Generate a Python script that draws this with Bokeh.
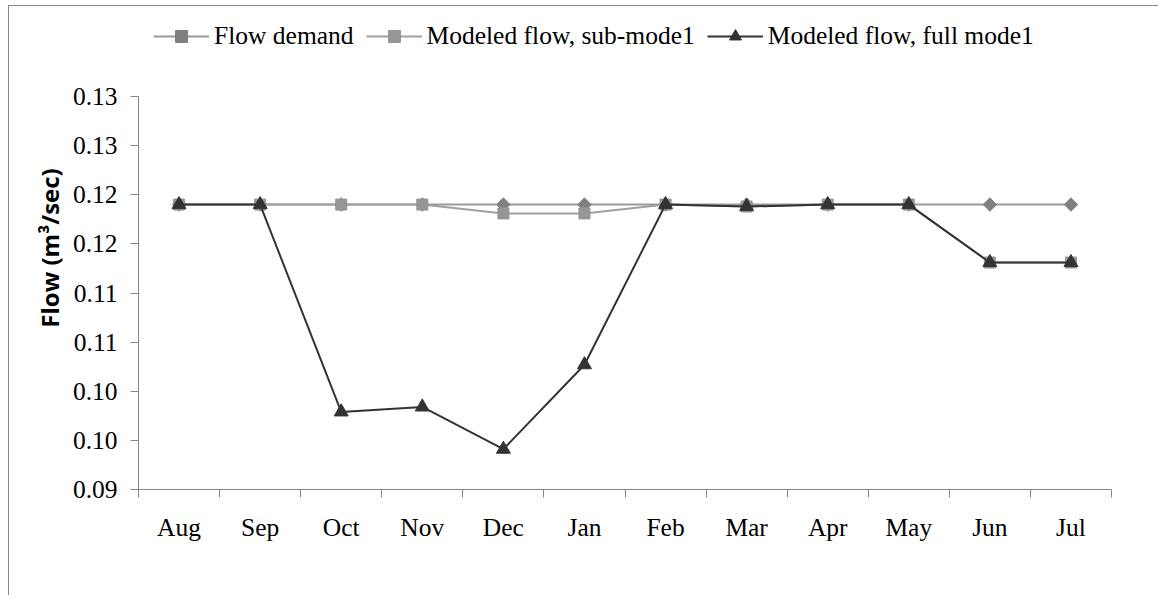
import numpy as np
from bokeh.plotting import figure
from bokeh.models import Range1d, FixedTicker, Legend, LegendItem, ColumnDataSource
from bokeh.embed import file_html
from bokeh.resources import INLINE

months = ["Aug", "Sep", "Oct", "Nov", "Dec", "Jan", "Feb", "Mar", "Apr", "May", "Jun", "Jul"]
flow_demand = [0.119, 0.119, 0.119, 0.119, 0.119, 0.119, 0.119, 0.119, 0.119, 0.119, 0.119, 0.119]
sub_mode1 = [0.119, 0.119, 0.119, 0.119, 0.1181, 0.1181, 0.119, 0.1188, 0.119, 0.119, 0.1131, 0.1131]
full_mode1 = [0.119, 0.119, 0.0979, 0.0984, 0.0941, 0.1027, 0.119, 0.1188, 0.119, 0.119, 0.1131, 0.1131]

y_ticks = [0.09, 0.095, 0.10, 0.105, 0.11, 0.115, 0.12, 0.125, 0.13]
y_tick_labels = ["0.09", "0.10", "0.10", "0.11", "0.11", "0.12", "0.12", "0.13", "0.13"]

x_centers = [i + 0.5 for i in range(len(months))]
x_bounds = list(range(len(months) + 1))

src = ColumnDataSource(dict(x=x_centers, demand=flow_demand, sub=sub_mode1, full=full_mode1))

AX = "#868686"
SERIF = "Liberation Serif"
C_DEM_LINE, C_DEM = "#9a9a9a", "#808080"
C_SUB_LINE, C_SUB = "#a0a0a0", "#969696"
C_FULL = "#333333"

# frame spans 483 px; the axis part (0.09-0.13) spans 393 px, the rest holds the legend
FRAME_H, AXIS_H = 483, 393
y_top = y_ticks[0] + (y_ticks[-1] - y_ticks[0]) * FRAME_H / AXIS_H

p = figure(width=1150, height=590, output_backend="svg", toolbar_location=None,
           x_range=Range1d(0, len(months)), y_range=Range1d(y_ticks[0], y_top),
           min_border_left=129, min_border_right=48, min_border_top=0, min_border_bottom=107)
p.styles = {"margin-left": "8px", "margin-top": "5px",
            "border-left": "1px solid #868686", "border-top": "1px solid #868686"}
p.outline_line_color = None
p.xgrid.grid_line_color = None
p.ygrid.grid_line_color = None
p.background_fill_color = "white"
p.border_fill_color = "white"

# series
l1 = p.line("x", "demand", source=src, line_color=C_DEM_LINE, line_width=2)
s1 = p.scatter("x", "demand", source=src, marker="square", angle=np.pi / 4, size=9.5,
               fill_color=C_DEM, line_color=C_DEM)
l2 = p.line("x", "sub", source=src, line_color=C_SUB_LINE, line_width=2)
s2 = p.scatter("x", "sub", source=src, marker="square", size=11,
               fill_color=C_SUB, line_color=C_SUB)
l3 = p.line("x", "full", source=src, line_color=C_FULL, line_width=2)
s3 = p.scatter("x", "full", source=src, marker="triangle", size=14,
               fill_color=C_FULL, line_color=C_FULL)

# x axis
xa = p.xaxis[0]
xa.ticker = FixedTicker(ticks=x_centers, minor_ticks=x_bounds)
xa.major_label_overrides = {x: m for x, m in zip(x_centers, months)}
xa.major_tick_line_color = None
xa.major_tick_out = 0
xa.major_tick_in = 0
xa.minor_tick_line_color = AX
xa.minor_tick_out = 8
xa.minor_tick_in = 0
xa.axis_line_color = AX
xa.major_label_text_font = SERIF
xa.major_label_text_font_size = "25.5px"
xa.major_label_text_color = "black"
xa.major_label_standoff = 15

# y axis
ya = p.yaxis[0]
ya.bounds = (y_ticks[0], y_ticks[-1])
ya.ticker = FixedTicker(ticks=y_ticks, minor_ticks=[])
ya.major_label_overrides = {t: s for t, s in zip(y_ticks, y_tick_labels)}
ya.major_tick_line_color = AX
ya.major_tick_out = 8
ya.major_tick_in = 0
ya.minor_tick_line_color = None
ya.axis_line_color = AX
ya.major_label_text_font = SERIF
ya.major_label_text_font_size = "25.5px"
ya.major_label_text_color = "black"
ya.major_label_standoff = 13
ya.axis_label = "Flow (m³/sec)"
ya.axis_label_text_font = "Open Sans"
ya.axis_label_text_font_style = "bold"
ya.axis_label_text_font_size = "24px"
ya.axis_label_text_color = "black"
ya.axis_label_standoff = 4

legend = Legend(items=[LegendItem(label="Flow demand", renderers=[l1, s1]),
                       LegendItem(label="Modeled flow, sub-mode1", renderers=[l2, s2]),
                       LegendItem(label="Modeled flow, full mode1", renderers=[l3, s3])],
                location=(15, 438), orientation="horizontal", padding=0, margin=0,
                spacing=12, glyph_width=56, glyph_height=30, label_standoff=5,
                label_text_font=SERIF, label_text_font_size="25.5px", label_text_color="black",
                border_line_color=None, background_fill_alpha=0)
p.add_layout(legend)

open("out.html", "w").write(file_html(p, INLINE))
